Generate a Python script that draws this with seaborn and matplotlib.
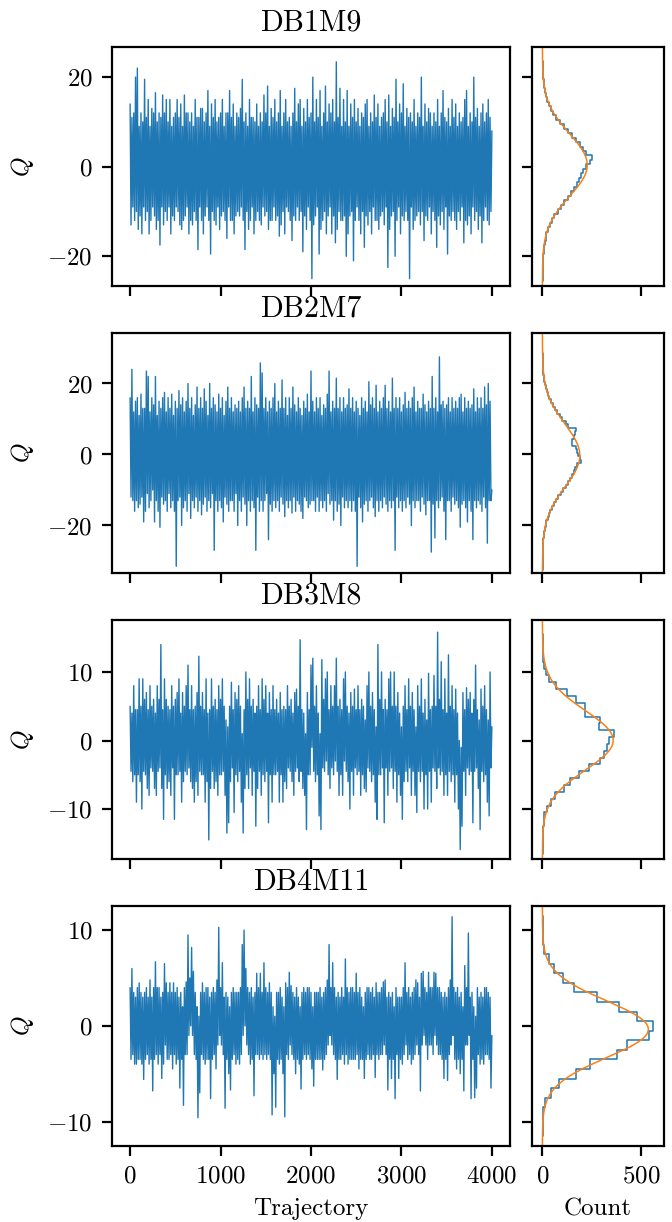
import numpy as np
import pandas as pd
import matplotlib
matplotlib.use("Agg")
import matplotlib.pyplot as plt
import seaborn as sns

# ── Data ──────────────────────────────────────────────────────
ENSEMBLES = ["DB1M9", "DB2M7", "DB3M8", "DB4M11"]
N_TRAJ = 4000    # traces cover trajectories 0..4000, one value every 10

q_db1m9 = [
    14, -13, 11, -9, 12, -12, 20, -10, 22, -14, 9, -11, 12, -15, 10, -9, 19.5, -12, 11, -10,
    15, -15, 9, -12, 13, -9, 12, -11, 16.5, -14, 10, -12, 12, -17.5, 11, -9, 16, -13, 12, -10,
    15, -12, 10, -9, 15, -15, 9, -11, 11, -12, 12, -9, 15, -10, 11, -13, 14, -14, 9, -12,
    16, -11, 12, -9, 12, -15, 10, -12, 12, -13, 9, -10, 15, -12, 11, -18.5, 11, -9, 13, -12,
    13, -15, 10, -11, 12, -9, 17, -12, 9, -19.5, 14, -10, 11, -12, 15, -13, 10, -9, 11, -14,
    12, -11, 15, -10, 9, -12, 12, -16, 12, -9, 17, -12, 11, -12, 14, -15, 9, -11, 12, -10,
    11, -11, 13, -9, 19.5, -12, 10, -18.5, 12, -10, 9, -14, 15, -12, 11, -9, 11, -15, 10, -12,
    14, -10, 9, -12, 12, -13, 10, -9, 16, -11, 12, -10, 18, -14, 9, -12, 13, -12, 11, -9,
    15, -12, 10, -11, 12, -15.5, 17, -13, 9, -10, 12, -15, 15, -9, 10, -10, 11, -12, 9, -16.5,
    12, -11, 17.5, -12, 10, -9, 14, -12, 15, -10, 9, -19, 13, -11, 10, -14, 15, -9, 11, -12,
    12, -25, 20, -13, 10, -11, 15, -9, 11, -19.5, 17, -14, 9, -12, 12, -10, 18, -15, 10, -11,
    14, -9, 12, -15, 15, -11, 10, -17, 23.4, -14, 11, -10, 17.5, -12, 9, -12, 15, -11, 10, -20,
    17, -15, 9, -11, 14, -10, 11, -21, 15, -12, 10, -9, 13, -12, 9, -15, 12, -10, 11, -18,
    14, -11, 15, -13, 9, -10, 12, -15, 10, -9, 16, -12, 11, -12, 14, -14, 9, -11, 11, -10,
    12, -13, 15, -9, 10, -22.5, 16, -14, 9, -11, 13, -10, 11, -20, 19.5, -12, 10, -9, 14, -15,
    12, -11, 18.5, -12, 9, -10, 13, -12, 11, -25, 12, -9, 10, -14, 15, -12, 9, -11, 12, -10,
    11, -13, 20, -10, 9, -16.5, 14, -11, 10, -12, 13, -9, 12, -15, 9, -10, 12, -12, 10, -18,
    15, -11, 9, -13, 12, -10, 17, -14, 11, -9, 10, -19.5, 13, -11, 9, -12, 15, -10, 11, -12,
    14, -14, 9, -10, 12, -12, 10, -9, 11, -17, 15, -12, 17, -13, 9, -11, 12, -15, 10, -9,
    20, -12, 11, -10, 13, -14, 9, -11, 12, -17, 14, -12, 10, -9, 12, -12, 15, -13, 11, -10, 8,
]
q_db2m7 = [
    16, -12, 24, -13, 12, -16, 15, -13, 16, -15, 11, -14, 17, -12, 13, -19, 13, -16, 23.5, -11,
    22, -15, 12, -13, 16, -10, 14, -19, 22, -13, 11, -16, 15, -20.5, 13, -12, 16, -14, 17.5, -13,
    12, -16, 16, -11, 13, -15, 17, -13, 11, -16, 15, -31.5, 13, -13, 18, -12, 14, -20, 16, -15,
    12, -13, 15, -16, 20, -11, 13, -18, 16, -13, 11, -15, 14, -12, 19, -16, 13, -13, 16, -17,
    13, -14, 18.5, -12, 15, -16, 11, -13, 20, -15, 13, -11, 16, -27, 14, -13, 12, -16, 17, -13,
    13, -15, 16, -19, 11, -12, 15, -14, 19, -16, 13, -13, 16, -13, 12, -16, 14, -11, 13, -20,
    15, -13, 12, -16, 16, -12, 19, -14, 13, -20, 15, -13, 13, -16, 22, -13, 12, -15, 16, -27,
    14, -12, 13, -16, 25.8, -13, 23, -16, 13, -13, 16, -11, 12, -24, 15, -14, 13, -16, 16, -13,
    20, -15, 12, -13, 15, -16, 13, -12, 21, -14, 13, -17.5, 16, -13, 11, -15, 16, -13, 13, -16.5,
    19, -12, 14, -16, 12, -13, 16, -14, 13, -16, 11, -18, 15, -12, 13, -13, 17, -15, 12, -14,
    23.5, -13, 15, -13, 12, -16, 16, -12, 13, -16, 16, -13, 11, -15, 14, -13, 13, -16, 17, -11,
    23.5, -14, 12, -13, 15, -18.5, 13, -13, 21.5, -16, 13, -14, 16, -20, 12, -12, 16, -15, 13, -13,
    14, -15, 18.5, -13, 13, -16, 16, -13, 12, -16, 15, -31.5, 13, -12, 11, -15, 16, -19, 13, -14,
    15, -13, 12, -16, 20.5, -13, 14, -12, 16, -15, 13, -17.5, 19.5, -13, 12, -16, 15, -13, 13, -15,
    16, -12, 19.5, -14, 13, -16, 15, -13, 12, -15, 21.5, -13, 13, -27, 16, -12, 13, -15, 16, -13,
    12, -16, 14, -13, 17.5, -15, 13, -12, 15, -14, 13, -20, 16, -13, 19, -15, 12, -13, 15, -13,
    13, -16, 13, -12, 17, -14, 14, -17, 12, -13, 15, -13, 13, -27.5, 22, -14, 13, -23.5, 16, -13,
    12, -15, 27.5, -13, 14, -12, 15, -16, 13, -24, 14, -13, 16, -13, 12, -16, 16, -12, 13, -14,
    15, -13, 13, -15, 16, -20.5, 17, -14, 12, -13, 16, -15, 13, -19, 15, -13, 13, -16, 14, -24,
    18.5, -13, 12, -15, 16, -13, 13, -14, 16, -16, 13, -12, 19, -15, 14, -25, 20, -13, 15, -13, -10,
]
q_db3m8 = [
    5, -4.5, 4, -6, 8, -5, 4.5, -9, 4.5, -5, 9, -6, 5, -10, 9, -4.5, 6, -5, 7, -7,
    4.5, -8, 8, -4, 5, -4.5, 6, -7, 4, -8, 8, -4.5, 6, -4, 14, -7, 4.5, -11.5, 9, -5,
    6, -7, 5, -6, 4.5, -8, 8, -4, 5, -11.5, 6, -5, 7, -5, 9, -4.5, 4, -9, 7, -6,
    5, -4.5, 8, -5, 11, -4, 4.5, -6, 8, -7, 4.5, -9, 5, -6, 7, -8, 12.3, -4.5, 5, -5,
    7, -5, 4.5, -9, 9, -6, 4, -14.5, 4.5, -7, 9, -4.5, 5, -7, 6, -6, 4.5, -8, 8, -5,
    6, -5, 9, -4.5, 5, -8, 3, -13.5, 2, -12, 5, -6, 8.5, -4, 4.5, -10.5, 7, -5, 6, -6,
    8, -4.5, 5, -9, 1, -13.5, 4.5, -7, 10, -5, 6, -7, 9, -4, 5, -8, 6, -4.5, 4, -12.5,
    5, -7, 8, -4.5, 4.5, -8, 9, -5, 6, -6, 8, -4.5, 4, -12, 7, -5, 4.5, -9, 8, -5,
    4.5, -5, 6, -4.5, 4, -9, 7, -5, 4.5, -9, 5, -6, 4.5, -7, 8, -4, 5, -4.5, 6, -6,
    4, -8, 7, -4.5, 7.5, -4, 5, -6, 14.7, -4.5, 4.5, -7, 4, -8, 1, -13, 7, -5, 4.5, -5,
    11, -1, 12, -4.5, 5, -6, 8, -5, 4, -11, 1, -13, 11.8, -4, 6, -4.5, 9, -3, 10, -5,
    4.5, -7, 8, -4, 5, -5, 8, -3, 12, -4.5, 5, -8, 6, -5, 4.5, -8, 9, -3, 10, -4.5,
    5, -6, 4, -10, 7, -4.5, 5, -8, 7.5, -4, 4.5, -5, 8, -4.5, 4.5, -8, 6, -5, 5, -7,
    3, -7.5, 8, -4, 10, -4.5, 5, -6, 7, -5, 4.5, -9, 2, -11.5, 14, -5, 6, -5, 10, -4,
    4.5, -12, 6, -4, 4.5, -8, 9, -4.5, 10, -4, 5, -7, 10, -4.5, 5, -9, 7, -5, 4, -8,
    2, -11.5, 5, -6, 8, -4.5, 4.5, -6, 9, -4, 5, -8, 7, -4.5, 4.5, -8, 2, -10.5, 8, -4.5,
    5, -6, 9, -4.5, 4, -10, 6, -5, 3, -10, 9.8, -4.5, 4.5, -9, 5, -4, 9.5, -4.5, 5, -7,
    15.8, -4, 6, -5, 11.5, -4.5, 4.5, -8, 9, -5, 4, -8, 12.5, -4.5, 5, -6, 8, -5, 4.5, -9,
    7.5, -5, 4, -10, 0, -15.9, -1, -12.5, 7, -4.5, 4.5, -8, 7.7, -4, 6, -5, 7, -4.5, 4, -12,
    6, -4.5, 11, -4, 4.5, -7, 3, -13, 7.5, -4.5, 5, -6, 8, -5, 4.5, -9, 3, -11, 10, -4, 2,
]
q_db4m11 = [
    4, -3.5, 6, -3, 3.5, -4, 3, -4, 4, -3.5, 4.5, -3.5, 3.5, -4, 3, -5.6, 3.5, -3.5, 4, -3,
    3, -4, 4.8, -3.5, 3, -6.8, 4, -3.5, 6.7, -3, 4, -4, 4, -3, 3, -5.5, 3.5, -4, 6.5, -2,
    4.5, -3.5, 3.5, -3.5, 4.5, -3, 3.5, -4.5, 4.5, -3, 3.5, -4, 4, -3.5, 3, -6.5, 3.5, -3.5, 2, -8.3,
    4, -3, 4.6, -3, 9.5, -1, 5, 0, 8.2, -1, 5.7, -3, 3.5, -3.5, 2, -9.6, 1, -7, 3.5, -3,
    4.5, -3.5, 3.5, -4, 4, -3.5, 4, -3.5, 3, -7.6, 3.5, -3.5, 4, -3, 3.5, -4.5, 4.8, -2, 10.3, -1,
    4, -2, 6.6, -3, 3, -8.6, 3.5, -3.5, 3, -5, 2, -6.7, 3.5, -3.5, 4, -3, 3.5, -4, 3.5, -3.5,
    3.5, -4, 4, -3, 8.5, -1, 10, 0, 6, -2, 4, -3, 3.5, -4, 4, -3.5, 3, -7.3, 3.5, -3,
    5.5, -3, 4, -3.5, 5.5, -3, 3.5, -3.5, 6.6, -3, 4, -3.5, 3.5, -3, 4.5, -3.5, 3.5, -9.3, 2, -5,
    1, -8.5, 3.5, -3.5, 3.5, -4, 4, -3.5, 3, -5, 2, -9.5, 4.5, -3, 4, -3.5, 5.6, -2, 4.2, -3,
    3.5, -3.5, 3, -5, 4, -3.5, 3, -4, 2, -6.6, 3.5, -3.5, 4, -3, 3.5, -3.5, 4, -3, 4, -3.5,
    3.5, -4.5, 2, -6.3, 3.5, -3.5, 3.5, -3.5, 3.5, -3.5, 4, -3.5, 3, -4.6, 3.5, -3.5, 4, -3, 4.8, -2,
    8.5, -1, 4, -2, 6.6, -3, 4, -3.5, 3, -5.6, 3.5, -3.5, 3, -3.5, 4, -3, 3, -4, 7, -3,
    4, -4, 3.5, -3.5, 4, -3.5, 4, -3.5, 3.5, -3.5, 5.5, -3, 3.5, -4.5, 4, -3.5, 3, -3.5, 2, -5.5,
    3.5, -3.5, 4, -3, 4, -3.5, 3.5, -3.5, 4, -3, 3, -5.4, 4.5, -3, 3.5, -3.5, 3.5, -3, 4, -3,
    4.6, -2, 4.8, -3, 3, -6.7, 3.5, -3.5, 3, -5.5, 3.5, -3.5, 2, -7.6, 4, -3, 3, -5.5, 3, -3.5,
    3, -4, 4, -3, 6.6, -2, 3.5, -3.5, 4, -3, 3, -4, 3.5, -3.5, 4, -3, 4.8, -2, 4.5, -3,
    3, -6.8, 5.5, -2, 5.7, -1, 4, -2, 3.5, -3.5, 5.6, -2, 4, -2, 4, -3, 5.6, -1, 5.5, -2,
    4, -3, 4, -3, 3.5, -3.5, 3, -5.5, 3.5, -3.5, 3, -5.7, 4, -3, 4.8, -2, 11.4, -1, 4, -3.5,
    3.5, -4.5, 4, -3.5, 3, -5, 3.5, -3.5, 2, -6.8, 6.3, -2, 4, -2, 9.7, -1, 3, -7.6, 3.5, -3.5,
    2, -7.5, 1, -6.5, 4, -3, 3, -4, 3.5, -3.5, 3, -4, 4, -3, 4, -3, 3.5, -3.5, 3, -6.5, -1,
]

# histogram counts, one bin per integer Q starting at hist_lo
hist_lo = [-25, -32, -16, -11]
counts_db1m9 = [1, 1, 1, 2, 3, 4, 6, 8, 11, 16, 20, 29, 38, 50, 60, 78, 92, 110, 128, 145,
                160, 175, 188, 198, 208, 222, 240, 252, 220, 204, 190, 170, 150, 128, 108,
                88, 70, 56, 44, 32, 22, 17, 12, 8, 6, 4, 3, 1, 1]
counts_db2m7 = [1, 1, 1, 1, 2, 2, 3, 4, 5, 7, 9, 12, 16, 20, 26, 32, 40, 48, 58, 68,
                80, 93, 106, 118, 130, 142, 152, 160, 168, 176, 196, 190,
                182, 178, 172, 148, 150, 160, 165, 170, 130, 118, 98, 88, 76, 64, 52,
                44, 36, 28, 22, 16, 12, 9, 6, 4, 3, 2, 1, 1, 1]
counts_db3m8 = [1, 2, 3, 4, 6, 10, 22, 44, 64, 112, 141, 188, 237, 293, 314, 330,
                340, 366, 285, 293, 214, 214, 169, 124, 69, 32, 19, 8, 5, 3, 2, 1]
counts_db4m11 = [1, 2, 5, 15, 44, 86, 173, 241, 381, 430, 541,
                 561, 478, 388, 275, 158, 103, 61, 34, 10, 4, 2, 1]

traces = [q_db1m9, q_db2m7, q_db3m8, q_db4m11]
counts = [counts_db1m9, counts_db2m7, counts_db3m8, counts_db4m11]

# axis setup per row
ylims  = [(-26.7, 26.7), (-33.3, 34.1), (-17.3, 17.6), (-12.5, 12.5)]
yticks = [[-20, 0, 20], [-20, 0, 20], [-10, 0, 10], [-10, 0, 10]]

BLUE   = "#1f77b4"
ORANGE = "#ff7f0e"

# ── Style ─────────────────────────────────────────────────────
sns.set_style("ticks")
plt.rcParams.update({
    "font.family"              : "serif",
    "font.serif"               : ["cmr10", "DejaVu Serif"],
    "mathtext.fontset"         : "cm",
    "axes.formatter.use_mathtext": True,
    "font.size"                : 9,
    "axes.titlesize"           : 10.8,
    "axes.labelsize"           : 9,
    "xtick.labelsize"          : 9,
    "ytick.labelsize"          : 9,
    "axes.edgecolor"           : "black",
    "axes.linewidth"           : 0.8,
    "xtick.color"              : "black",
    "ytick.color"              : "black",
    "xtick.major.size"         : 3.5,
    "ytick.major.size"         : 3.5,
    "xtick.major.width"        : 0.8,
    "ytick.major.width"        : 0.8,
    "text.color"               : "black",
    "axes.labelcolor"          : "black",
})

fig, axes = plt.subplots(4, 2, figsize=(3.36, 6.11), dpi=200,
                         sharex="col", sharey="row",
                         gridspec_kw={"width_ratios": [3.015, 1]})
fig.subplots_adjust(left=0.1667, right=0.988, top=0.9615, bottom=0.0626,
                    wspace=0.083, hspace=0.197)

for row, (name, q, c, lo) in enumerate(zip(ENSEMBLES, traces, counts, hist_lo)):
    ax, axh = axes[row]
    q = np.asarray(q, dtype=float)
    c = np.asarray(c, dtype=float)

    # trace
    traj = np.linspace(0, N_TRAJ, len(q))
    sns.lineplot(x=traj, y=q, ax=ax, color=BLUE, linewidth=0.5)

    # histogram (horizontal, step outline, one bin per integer charge)
    centers = np.arange(lo, lo + len(c))
    hist_df = pd.DataFrame({"Q": centers, "n": c})
    sns.histplot(data=hist_df, y="Q", weights="n", discrete=True,
                 element="step", fill=False, color=BLUE, linewidth=0.55, ax=axh)

    # normal fit to the histogram
    n = c.sum()
    mu = (c * centers).sum() / n
    sd = np.sqrt((c * (centers - mu) ** 2).sum() / n)
    grid = np.linspace(ylims[row][0], ylims[row][1], 400)
    fit = n / (sd * np.sqrt(2 * np.pi)) * np.exp(-0.5 * ((grid - mu) / sd) ** 2)
    sns.lineplot(x=fit, y=grid, orient="y", ax=axh, color=ORANGE, linewidth=0.55)

    ax.set_ylim(*ylims[row])
    ax.set_yticks(yticks[row])
    ax.set_ylabel("$Q$")
    ax.set_title(name)
    axh.set_ylabel("")
    ax.set_xlabel("")
    axh.set_xlabel("")

axes[0, 0].set_xlim(-200, 4200)
axes[0, 0].set_xticks([0, 1000, 2000, 3000, 4000])
axes[0, 1].set_xlim(-53, 617)
axes[0, 1].set_xticks([0, 500])
axes[-1, 0].set_xlabel("Trajectory")
axes[-1, 1].set_xlabel("Count")

fig.savefig("out.png", dpi=200)
